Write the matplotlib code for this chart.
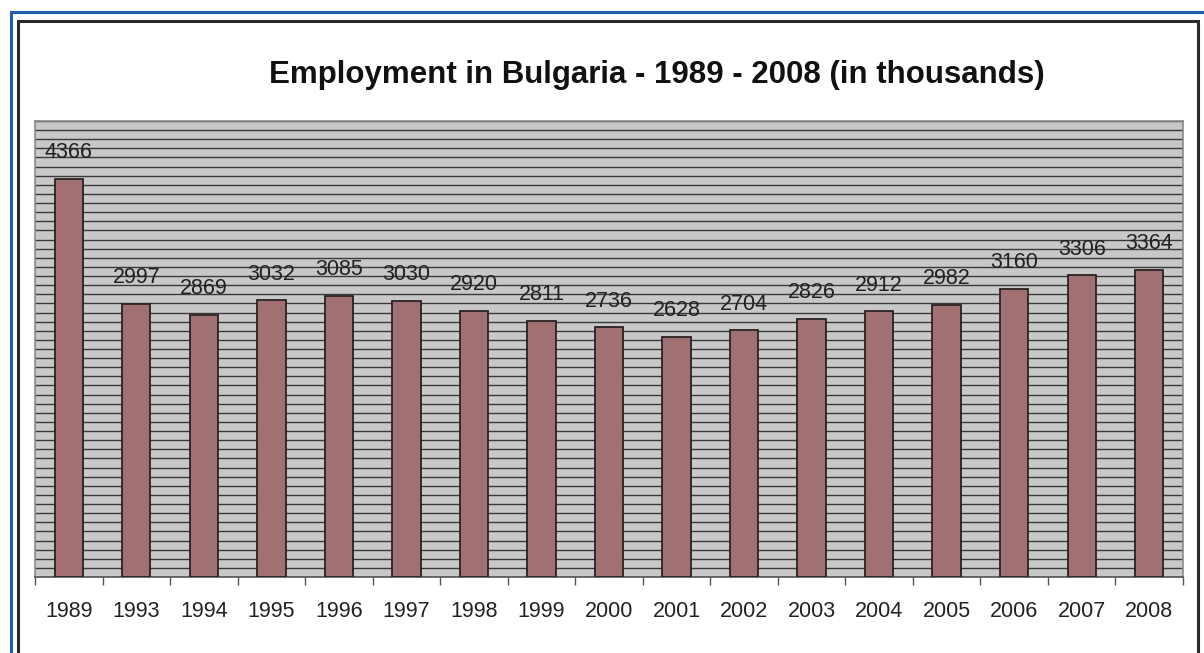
import matplotlib
matplotlib.use("Agg")
import matplotlib.pyplot as plt
import numpy as np
from matplotlib.patches import Rectangle

years = ["1989", "1993", "1994", "1995", "1996", "1997", "1998", "1999", "2000",
         "2001", "2002", "2003", "2004", "2005", "2006", "2007", "2008"]
employment = [4366, 2997, 2869, 3032, 3085, 3030, 2920, 2811, 2736,
              2628, 2704, 2826, 2912, 2982, 3160, 3306, 3364]
title = "Employment in Bulgaria - 1989 - 2008 (in thousands)"

plt.rcParams["font.family"] = ["Liberation Sans", "DejaVu Sans"]

W, H = 1204, 653
fig = plt.figure(figsize=(W / 100, H / 100), dpi=100)
fig.patch.set_facecolor("white")

# frame: outer blue border and inner black border
fig.add_artist(Rectangle((11 / W, -0.1), 1.2, (H - 12.5) / H + 0.1, transform=fig.transFigure,
                         fill=False, edgecolor="#1f5fb0", linewidth=2.2, zorder=0))
fig.add_artist(Rectangle((17.5 / W, -0.1), (1197.5 - 17.5) / W, (H - 21.5) / H + 0.1,
                         transform=fig.transFigure, fill=False, edgecolor="#2a2a2a",
                         linewidth=2.2, zorder=0))

left, right, top, bottom = 35, 1183, 121, 577
ax = fig.add_axes([left / W, (H - bottom) / H, (right - left) / W, (bottom - top) / H])
ax.set_facecolor("#c8c8c8")

x = np.arange(len(years))
ax.bar(x, employment, width=0.42, color="#a07073", edgecolor="#2b2222", linewidth=1.3, zorder=3)

for xi, v in zip(x, employment):
    ax.annotate(str(v), (xi, v), xytext=(0, 19), textcoords="offset points",
                ha="center", va="center", fontsize=15.5, color="#222222", zorder=4)

ax.set_ylim(0, 5000)
ax.set_xlim(-0.5, len(years) - 0.5)
ax.set_yticks(np.arange(0, 5001, 100))
ax.yaxis.grid(True, color="#3a3a3a", linewidth=1.0, zorder=1)
ax.tick_params(axis="y", left=False, labelleft=False)

ax.set_xticks(x)
ax.set_xticklabels(years, fontsize=15.5, color="#222222")
ax.set_xticks(np.arange(-0.5, len(years), 1), minor=True)
ax.tick_params(axis="x", which="major", length=0, pad=17)
ax.tick_params(axis="x", which="minor", length=6, color="#555555", width=1)

for side in ["left", "right", "top"]:
    ax.spines[side].set_color("#8a8a8a")
    ax.spines[side].set_linewidth(1.2)
ax.spines["bottom"].set_color("#555555")
ax.spines["bottom"].set_linewidth(1.2)

fig.text(657 / W, 1 - 75 / H, title, ha="center", va="center",
         fontsize=22.5, fontweight="bold", color="#111111")

fig.savefig("out.png", dpi=100)
